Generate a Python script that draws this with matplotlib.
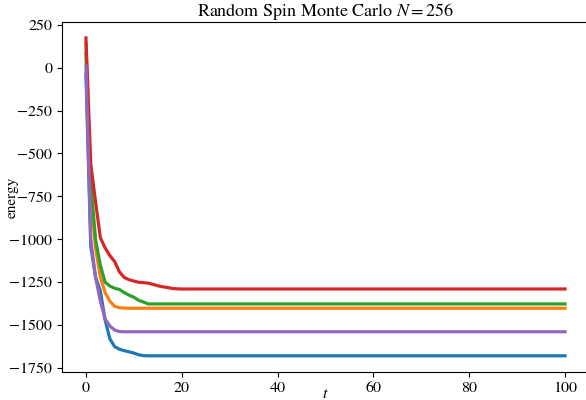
import numpy as np
import matplotlib
matplotlib.use("Agg")
import matplotlib.pyplot as plt

plt.rcParams['font.family'] = ['STIXGeneral', 'Liberation Serif', 'DejaVu Serif']
plt.rcParams['mathtext.fontset'] = 'stix'

t = np.arange(0, 101)

blue_head = [-38, -1040, -1220, -1300, -1470, -1580, -1625, -1640, -1648, -1655,
             -1662, -1672, -1677]
blue_tail = -1678
orange_head = [140, -750, -1050, -1220, -1310, -1360, -1390, -1398, -1400]
orange_tail = -1401
green_head = [83, -660, -1000, -1150, -1250, -1272, -1285, -1292, -1310, -1325,
              -1337, -1355, -1365]
green_tail = -1376
red_head = [173, -560, -780, -990, -1050, -1095, -1130, -1190, -1222, -1235,
            -1243, -1250, -1252, -1255, -1262, -1270, -1276, -1280, -1286, -1288]
red_tail = -1289
purple_head = [10, -1000, -1220, -1360, -1463, -1505, -1528, -1537]
purple_tail = -1538

heads = [blue_head, orange_head, green_head, red_head, purple_head]
tails = [blue_tail, orange_tail, green_tail, red_tail, purple_tail]
colors = ['#1f77b4', '#ff7f0e', '#2ca02c', '#d62728', '#9467bd']

fig = plt.figure(figsize=(5.86, 4.0), dpi=100)
ax = fig.add_axes([62/586, 1-371.7/400, (589-62)/586, (371.7-22)/400])

for h, tl, c in zip(heads, tails, colors):
    y = np.array(list(h) + [tl] * (len(t) - len(h)), dtype=float)
    ax.plot(t, y, color=c, lw=2.3)

ax.set_title('Random Spin Monte Carlo $N = 256$', fontsize=13, pad=3)
ax.set_xlabel('$t$', fontsize=11.5)
ax.set_ylabel('energy', fontsize=11)
ax.xaxis.set_label_coords(0.5, -0.045)
ax.yaxis.set_label_coords(-0.082, 0.5)
ax.tick_params(labelsize=11.5)
ax.set_yticks(np.arange(-1750, 251, 250))
ax.set_xticks([0, 20, 40, 60, 80, 100])
ax.spines['right'].set_visible(False)

fig.savefig('out.png', dpi=100)
